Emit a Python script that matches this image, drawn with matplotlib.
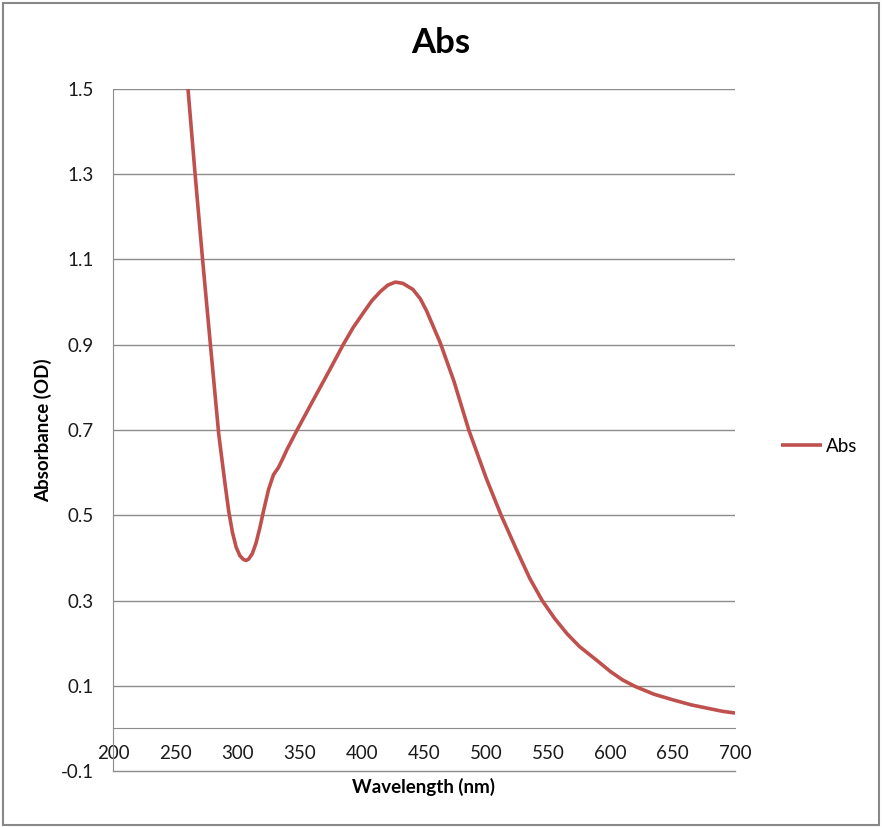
import matplotlib
matplotlib.use("Agg")
from matplotlib import pyplot as plt
from matplotlib.patches import Rectangle

plt.rcParams['font.family'] = ['Lato', 'DejaVu Sans']

# absorbance spectrum
wavelength = [255, 260, 266, 272, 278, 285, 290, 293, 296, 299, 302, 305, 307,
              309, 312, 315, 318, 321, 325, 329, 333, 336, 340, 348, 360, 374,
              385, 393, 401, 408, 415, 421, 427, 433, 441, 447, 452, 463, 474,
              486, 500, 512, 525, 535, 545, 555, 565, 575, 590, 600, 610, 620,
              635, 650, 665, 680, 690, 700]
absorbance = [1.62, 1.51, 1.30, 1.10, 0.91, 0.69, 0.575, 0.51, 0.46, 0.425,
              0.405, 0.396, 0.394, 0.397, 0.41, 0.435, 0.47, 0.51, 0.56, 0.595,
              0.612, 0.630, 0.655, 0.70, 0.765, 0.84, 0.90, 0.94, 0.974, 1.003,
              1.025, 1.040, 1.047, 1.044, 1.030, 1.008, 0.980, 0.905, 0.815,
              0.70, 0.587, 0.50, 0.415, 0.352, 0.30, 0.258, 0.222, 0.192, 0.157,
              0.133, 0.113, 0.098, 0.080, 0.067, 0.055, 0.046, 0.040, 0.036]

x_ticks = [200, 250, 300, 350, 400, 450, 500, 550, 600, 650, 700]
y_ticks = [-0.1, 0.1, 0.3, 0.5, 0.7, 0.9, 1.1, 1.3, 1.5]
y_labels = ['-0.1', '0.1', '0.3', '0.5', '0.7', '0.9', '1.1', '1.3', '1.5']

grey = '#8c8c8c'
red = '#c0504d'

fig = plt.figure(figsize=(8.82, 8.27), dpi=100)
ax = fig.add_axes([113/882, 1 - 771/827, (735-113)/882, (771-89)/827])

for y in y_ticks[1:]:
    ax.axhline(y, color=grey, lw=1.0, zorder=1)
ax.axhline(-0.1, color=grey, lw=1.0, zorder=1, clip_on=False)

ax.plot(wavelength, absorbance, color=red, lw=2.6, label='Abs', zorder=3,
        solid_capstyle='butt')

ax.set_xlim(200, 700)
ax.set_ylim(-0.1, 1.5)
ax.set_xticks(x_ticks)
ax.set_yticks(y_ticks)
ax.set_yticklabels(y_labels)

ax.spines['top'].set_visible(False)
ax.spines['right'].set_visible(False)
ax.spines['left'].set_color(grey)
ax.spines['bottom'].set_color(grey)
ax.spines['bottom'].set_position(('data', 0))
ax.tick_params(length=0, labelsize=13.5, colors='#1a1a1a')
ax.tick_params(axis='y', pad=14)
ax.tick_params(axis='x', pad=12)

fig.text(441/882, 1 - 43/827, 'Abs', ha='center', va='center',
         fontsize=25, fontweight='bold')
fig.text(424/882, 1 - 787/827, 'Wavelength (nm)', ha='center', va='center',
         fontsize=13.5, fontweight='bold')
fig.text(43/882, 1 - 430/827, 'Absorbance (OD)', ha='center', va='center',
         rotation=90, fontsize=13.5, fontweight='bold')

ax.legend(loc='center left', bbox_to_anchor=(781/882, 1 - 446/827),
          bbox_transform=fig.transFigure, frameon=False, fontsize=13.5,
          handlelength=2.2, handletextpad=0.2, borderpad=0, borderaxespad=0)

fig.patches.append(Rectangle((3/882, 2/827), 876/882, 822/827, transform=fig.transFigure,
                             fill=False, edgecolor='#888888', lw=1.5))

fig.savefig('out.png', dpi=100, facecolor='white')
